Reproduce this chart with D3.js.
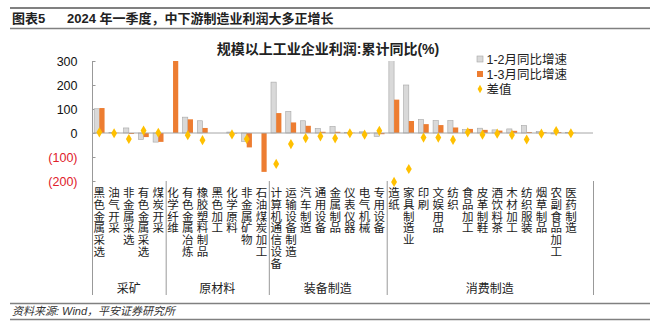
<!DOCTYPE html>
<html><head><meta charset="utf-8">
<script src="https://cdn.jsdelivr.net/npm/d3@7"></script>
<style>
body{margin:0;background:#fff;}
text{font-family:"Liberation Sans",Arial,"Noto Sans CJK SC",sans-serif;}
</style></head>
<body><svg id="c" width="660" height="329"></svg>
<script>
const categories = ["黑色金属采选","油气开采","非金属采选","有色金属采选","煤炭开采",
 "化学纤维","有色金属冶炼","橡胶塑料制品","黑色加工","化学原料","非金属矿物","石油煤炭加工",
 "计算机通信设备","运输设备制造","汽车制造","通用设备","金属制品","仪表仪器","电气机械","专用设备",
 "造纸","家具制造业","印刷","文娱用品","纺织","食品加工","皮革制鞋","酒饮料茶","木材加工","纺织服装","烟草制品","农副食品加工","医药制造",""];
const jan_feb = [101,2,21,-27,-38, null,66,51,null,4,-35,null, 212,90,51,19,27,2,5,-14, 343,200,56,52,52,14,20,13,17,31,6,-4,2,null];
const jan_mar = [104,1,-4,-17,-37, 305,57,21,null,-2,-60,-162, 83,44,30,5,5,1,-2,-5, 139,50,37,33,23,17,13,10,9,4,3,4,1,null];
const diff    = [3,-1,-25,10,1, null,-9,-30,null,-6,-25,null, -129,-46,-21,-14,-22,-1,-7,9, -204,-150,-19,-19,-29,3,-7,-3,-8,-27,-3,8,-1,null];
const groups = [{name:"采矿",start:0,end:5},{name:"原材料",start:5,end:12},{name:"装备制造",start:12,end:20},{name:"消费制造",start:20,end:34}];
const yTicks = [300,200,100,0,-100,-200];
const seriesNames = ["1-2月同比增速","1-3月同比增速","差值"];

const svg = d3.select("#c");
const L=92, R=593, T=61, B=181;
const x = d3.scaleBand().domain(d3.range(categories.length)).range([L,R]).padding(0);
const y = d3.scaleLinear().domain([-200,300]).range([B,T]);
const bw = 5.2;
const gray="#D9D9D9", grayS="#A6A6A6", orange="#ED7D31", gold="#FFC000";

// header
svg.append("line").attr("x1",10).attr("x2",650).attr("y1",8).attr("y2",8).attr("stroke","#808080").attr("stroke-width",2);
svg.append("line").attr("x1",10).attr("x2",650).attr("y1",28.5).attr("y2",28.5).attr("stroke","#808080").attr("stroke-width",1.5);
svg.append("text").attr("x",12).attr("y",23).attr("font-size",13).attr("font-weight","bold").attr("fill","#222").text("图表5");
svg.append("text").attr("x",67).attr("y",23).attr("font-size",13).attr("font-weight","bold").attr("fill","#222").text("2024 年一季度，中下游制造业利润大多正增长");
// footer
svg.append("line").attr("x1",10).attr("x2",650).attr("y1",303.5).attr("y2",303.5).attr("stroke","#808080").attr("stroke-width",1.5);
svg.append("line").attr("x1",10).attr("x2",650).attr("y1",319.5).attr("y2",319.5).attr("stroke","#808080").attr("stroke-width",1.5);
svg.append("text").attr("x",12).attr("y",315).attr("font-size",11).attr("font-style","italic").attr("fill","#333").text("资料来源: Wind，平安证券研究所");

// title
svg.append("text").attr("x",328).attr("y",54).attr("text-anchor","middle").attr("font-size",14).attr("font-weight","bold").attr("fill","#222").text("规模以上工业企业利润:累计同比(%)");

// y axis
const yAxis = d3.axisLeft(y).tickValues(yTicks).tickSize(-3).tickPadding(15).tickFormat(d=> d<0?`(${-d})`:d);
const ga = svg.append("g").attr("transform",`translate(${L+0.5},0)`).call(yAxis);
ga.select(".domain").remove();
ga.selectAll(".tick line").attr("stroke","#999");
ga.selectAll(".tick text").attr("font-size",12.5).attr("fill",d=>d<0?"#E0202A":"#111").attr("font-family","'Liberation Sans',Arial,sans-serif");
svg.append("line").attr("x1",L+0.5).attr("x2",L+0.5).attr("y1",T).attr("y2",295).attr("stroke","#999");

// clip
svg.append("clipPath").attr("id","pc").append("rect").attr("x",L).attr("y",T).attr("width",R-L).attr("height",B-T+60);
const gp = svg.append("g").attr("clip-path","url(#pc)");
const idx = d3.range(categories.length);
gp.selectAll("rect.g").data(idx.filter(i=>jan_feb[i]!=null)).join("rect")
 .attr("x",i=>x(i)+x.bandwidth()/2-bw).attr("width",bw)
 .attr("y",i=>y(Math.max(0,jan_feb[i]))).attr("height",i=>Math.abs(y(jan_feb[i])-y(0)))
 .attr("fill",gray).attr("stroke",grayS).attr("stroke-width",0.6);
gp.selectAll("rect.o").data(idx.filter(i=>jan_mar[i]!=null)).join("rect")
 .attr("x",i=>x(i)+x.bandwidth()/2).attr("width",bw)
 .attr("y",i=>y(Math.max(0,jan_mar[i]))).attr("height",i=>Math.abs(y(jan_mar[i])-y(0)))
 .attr("fill",orange);
// zero line
svg.append("line").attr("x1",L).attr("x2",R).attr("y1",y(0)).attr("y2",y(0)).attr("stroke","#A6A6A6").attr("stroke-width",1);
// diamonds
const dsym = d3.symbol().type(d3.symbolDiamond).size(30);
svg.selectAll("path.d").data(idx.filter(i=>diff[i]!=null)).join("path")
 .attr("d",dsym).attr("fill",gold)
 .attr("transform",i=>`translate(${x(i)+x.bandwidth()/2},${y(diff[i])})`);

// category labels (vertical)
const lh = 11.8;
categories.forEach((c,i)=>{
  const t = svg.append("text").attr("font-size",11.5).attr("fill","#222").attr("text-anchor","middle");
  [...c].forEach((ch,k)=>{
    t.append("tspan").attr("x",x(i)+x.bandwidth()/2).attr("y",197+k*lh).text(ch);
  });
});
// group dividers and labels
groups.forEach(g=>{
  if(g.start>0) svg.append("line").attr("x1",x(g.start)+0.5).attr("x2",x(g.start)+0.5).attr("y1",B).attr("y2",295).attr("stroke","#999");
  svg.append("text").attr("x",(x(g.start)+ (g.end<categories.length? x(g.end):R))/2).attr("y",292.5).attr("text-anchor","middle").attr("font-size",12).attr("fill","#222").text(g.name);
});
svg.append("line").attr("x1",R+0.5).attr("x2",R+0.5).attr("y1",B).attr("y2",295).attr("stroke","#999");

// legend
const lg = svg.append("g").attr("transform","translate(477,0)");
const ly=[59,74,89];
lg.append("rect").attr("x",0).attr("y",ly[0]-3).attr("width",6).attr("height",6).attr("fill",gray).attr("stroke",grayS).attr("stroke-width",0.6);
lg.append("rect").attr("x",0).attr("y",ly[1]-3).attr("width",6).attr("height",6).attr("fill",orange);
lg.append("path").attr("d",d3.symbol().type(d3.symbolDiamond).size(20)).attr("fill",gold).attr("transform",`translate(3,${ly[2]})`);
seriesNames.forEach((s,k)=>lg.append("text").attr("x",9.5).attr("y",ly[k]+4.5).attr("font-size",12.5).attr("fill","#222").text(s));
</script></body></html>
